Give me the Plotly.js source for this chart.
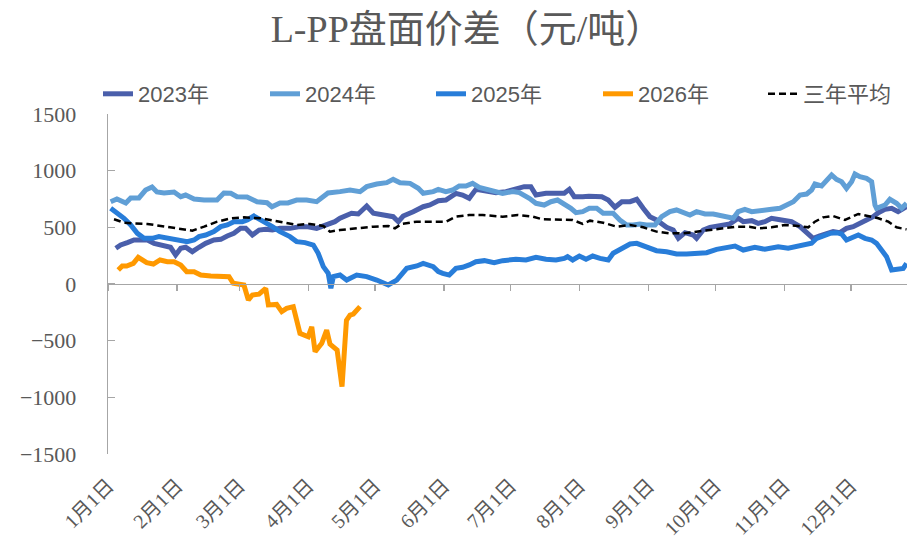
<!DOCTYPE html>
<html>
<head>
<meta charset="utf-8">
<script src="https://cdn.plot.ly/plotly-3.0.1.min.js"></script>
<style>html,body{margin:0;padding:0;background:#fff;}#chart{width:907px;height:540px;}</style>
</head>
<body>
<div id="chart"></div>
<script>
// Day-of-year positions of month ticks and their labels
const monthTicks = [0,31,59,90,120,151,181,212,243,273,304,334];
const monthLabels = ['1月1日','2月1日','3月1日','4月1日','5月1日','6月1日','7月1日','8月1日','9月1日','10月1日','11月1日','12月1日'];
const seriesNames = ['2023年','2024年','2025年','2026年','三年平均'];

// 2023
const days2023 = [3.5,5.7,8.7,11.7,14.7,17.7,20.7,24.4,28.1,30.4,32.7,34.9,37.9,40.9,43.9,47.6,50.7,53.6,56.6,59.6,61.9,64.9,67.9,70.9,73.9,77.3,81.8,86.3,89.3,93.8,98.3,102.0,104.3,107.3,109.5,112.5,116.3,119.3,123.7,128.2,130.5,132.7,137.2,141.7,144.7,148.5,151.9,156.4,159.4,162.4,165.4,169.9,174.4,178.9,183.4,187.1,190.1,192.4,196.9,201.4,205.1,207.4,209.6,213.4,216.2,222.0,224.9,227.9,231.0,234.7,237.7,240.6,243.6,246.6,251.1,254.1,256.4,259.4,263.1,264.6,267.6,270.6,275.1,279.6,283.3,285.6,289.4,292.3,295.3,298.3,302.8,307.3,311.1,314.1,317.0,320.0,323.0,326.0,329.0,332.0,335.0,338.0,341.0,344.0,346.3,349.3,352.3,355.2,359.0];
const vals2023 = [315,344,365,388,388,388,359,344,324,256,315,324,285,324,359,388,394,424,447,491,491,432,476,482,476,491,491,506,506,491,521,550,580,609,624,618,688,624,609,594,550,600,638,682,697,735,741,800,785,756,835,815,806,815,835,859,859,785,800,794,800,835,770,770,775,770,741,677,726,726,747,668,594,565,500,476,403,453,432,403,476,500,512,530,580,550,559,535,550,580,565,550,506,453,403,424,447,462,453,491,506,530,565,594,629,659,668,638,682];

// 2024
const days2024 = [1.2,4.0,8.0,10.2,13.9,16.9,19.8,22.0,25.2,29.7,32.7,34.9,38.7,43.2,49.0,52.1,55.2,58.0,62.5,67.0,71.5,73.7,77.3,80.9,84.8,89.3,93.8,98.9,104.3,108.8,113.3,116.3,120.8,125.3,128.2,131.3,135.8,139.5,141.7,146.2,148.5,151.9,154.9,157.9,160.9,163.9,166.9,171.4,177.4,181.9,184.9,189.4,192.4,196.1,199.1,202.1,205.9,208.1,210.4,213.4,216.4,219.7,222.6,227.1,230.1,233.2,236.1,239.1,242.1,245.9,248.9,252.6,255.6,258.6,261.6,264.6,268.4,272.1,276.6,281.1,283.3,286.3,289.4,293.8,298.3,302.1,305.1,308.1,311.1,314.1,316.3,317.8,320.8,323.0,325.3,327.5,329.8,332.0,334.3,335.8,338.0,341.0,343.3,344.8,345.5,349.3,351.5,354.5,356.8,359.0];
const vals2024 = [726,750,715,759,759,829,856,812,803,812,770,785,750,741,741,803,800,770,768,726,717,682,715,715,741,741,726,803,815,829,815,859,882,894,923,894,888,844,800,815,835,815,829,865,865,888,853,835,800,815,806,756,712,697,726,741,697,668,629,638,668,668,624,624,565,521,521,530,521,521,594,638,653,629,609,638,618,618,600,580,638,659,638,644,659,668,697,726,785,794,829,882,865,918,962,923,903,844,903,971,947,932,903,697,668,697,747,712,668,712];

// 2025
const days2025 = [1.2,4.2,7.2,10.2,13.2,16.2,19.9,22.9,26.7,31.2,35.6,38.7,40.9,43.9,47.6,50.7,53.6,56.6,60.4,62.6,65.6,68.6,71.6,73.9,77.3,81.8,84.8,88.6,92.3,94.5,96.8,99.0,100.2,101.3,104.3,107.3,111.8,116.3,120.8,126.0,129.8,132.0,134.3,138.8,141.7,146.2,148.5,150.5,153.4,156.4,159.4,162.4,165.4,169.2,173.6,177.4,183.4,187.9,192.4,196.9,201.4,205.1,206.6,208.9,211.9,214.9,217.9,221.2,224.9,227.1,231.6,234.7,237.7,242.1,246.6,251.1,255.6,260.1,264.6,269.1,273.6,278.1,281.9,285.6,288.3,290.8,295.3,301.3,305.8,311.1,316.3,318.6,321.6,324.6,327.6,329.8,332.0,334.3,337.3,340.3,343.3,345.5,347.8,350.0,352.3,355.3,357.5,359.0];
const vals2025 = [668,624,580,521,447,403,403,418,403,388,374,388,418,432,462,506,521,550,550,565,600,565,535,506,462,418,374,365,344,271,153,94,-38,65,79,35,79,65,35,-9,35,94,138,159,182,153,109,94,79,138,147,168,197,206,188,206,218,212,235,218,212,226,241,212,247,218,247,226,212,271,315,353,359,324,294,285,265,265,265,276,306,324,335,300,315,324,306,329,315,335,359,403,424,447,453,441,388,412,432,403,388,359,300,241,124,138,138,182];

// 2026
const days2026 = [4.6,6.4,8.4,11.4,13.6,15.4,17.4,20.4,23.4,26.7,29.7,32.7,35.4,38.7,41.7,46.2,50.7,54.4,56.3,59.6,61.1,63.1,64.9,67.9,70.9,72.1,75.8,78.1,80.3,83.3,86.3,90.0,91.6,93.1,96.1,98.3,99.8,103.0,105.2,107.2,108.8,110.3,113.3];
const vals2026 = [124,159,159,182,235,212,188,176,212,197,197,168,109,109,79,71,71,65,6,-5,-9,-141,-97,-90,-38,-185,-180,-244,-215,-200,-435,-465,-377,-597,-523,-406,-530,-582,-906,-320,-274,-265,-200];

// 三年平均
const daysAvg = [2.7,7.2,11.7,17.7,23.7,31.2,37.9,43.2,49.1,55.2,61.1,68.6,73.9,78.8,84.8,90.8,96.8,99.8,104.3,111.8,119.3,126.0,129.0,132.0,138.8,148.5,151.9,156.4,162.4,168.4,177.4,184.2,190.9,195.4,204.4,208.9,213.4,216.7,222.6,228.7,234.7,240.6,246.6,252.6,258.6,264.6,270.6,276.6,282.6,288.3,292.3,298.3,304.3,310.3,314.8,317.8,321.5,326.0,331.3,337.3,341.8,346.3,350.8,354.5,359.0];
const valsAvg = [571,541,535,530,512,491,471,506,550,580,588,580,559,541,521,530,512,462,476,491,506,512,491,530,550,550,550,594,609,609,594,609,594,571,571,565,530,559,541,506,521,500,462,447,447,462,476,491,506,506,491,500,521,512,500,550,588,600,565,618,600,580,550,500,482];

const gray = '#A6A6A6';
const txt = '#595959';
const serif = 'Liberation Serif, Noto Sans CJK SC, serif';
const sans = 'Liberation Sans, Noto Sans CJK SC, sans-serif';

const traces = [
  {x: days2023, y: vals2023, name: seriesNames[0], legend: 'legend', mode: 'lines', line: {color: '#4A5FAB', width: 5}},
  {x: days2024, y: vals2024, name: seriesNames[1], legend: 'legend2', mode: 'lines', line: {color: '#609FD6', width: 5}},
  {x: days2025, y: vals2025, name: seriesNames[2], legend: 'legend3', mode: 'lines', line: {color: '#287DD9', width: 5}},
  {x: days2026, y: vals2026, name: seriesNames[3], legend: 'legend4', mode: 'lines', line: {color: '#FF9900', width: 5}},
  {x: daysAvg, y: valsAvg, name: seriesNames[4], legend: 'legend5', mode: 'lines', line: {color: '#000000', width: 2.5, dash: '7px,4px'}},
  {x: [monthTicks[0]], y: [null], xaxis: 'x2', mode: 'lines', showlegend: false, hoverinfo: 'skip'}
];

function leg(px) {
  return {orientation: 'h', xref: 'paper', yref: 'paper', x: (px - 108) / 799, y: 1.1206,
          xanchor: 'left', yanchor: 'top', bgcolor: 'rgba(0,0,0,0)',
          font: {family: sans, size: 22, color: txt}};
}

const layout = {
  width: 907, height: 540,
  margin: {l: 108, r: 0, t: 114, b: 86, autoexpand: false},
  paper_bgcolor: '#fff', plot_bgcolor: '#fff',
  title: {text: 'L-PP盘面价差（元/吨）', font: {family: serif, size: 38, color: txt},
          x: 467/907, xref: 'container', xanchor: 'center', y: 1 - 29/540, yref: 'container', yanchor: 'middle'},
  showlegend: true,
  legend: leg(98), legend2: leg(265), legend3: leg(431), legend4: leg(598), legend5: leg(763),
  xaxis: {range: [0, 359.2], tickmode: 'array', tickvals: monthTicks, ticktext: monthLabels,
          tickangle: -45, ticks: '', showline: false, showgrid: false, zeroline: false,
          ticklabelstandoff: 15, tickfont: {family: serif, size: 20, color: txt}},
  xaxis2: {overlaying: 'x', matches: 'x', anchor: 'free', position: 0.5, range: [0, 359.2],
           tickmode: 'array', tickvals: monthTicks, showticklabels: false,
           ticks: 'outside', ticklen: 6, tickwidth: 1.3, tickcolor: gray,
           showline: true, linecolor: gray, linewidth: 1.3, showgrid: false, zeroline: false},
  yaxis: {range: [-1500, 1500], tick0: 0, dtick: 500, ticks: 'inside', ticklen: 7, tickwidth: 1.3,
          tickcolor: gray, showline: true, linecolor: gray, linewidth: 1.3, showgrid: false,
          zeroline: false, ticklabelstandoff: 26, tickfont: {family: serif, size: 22, color: txt}}
};

Plotly.newPlot('chart', traces, layout, {displayModeBar: false, staticPlot: true});
</script>
</body>
</html>
